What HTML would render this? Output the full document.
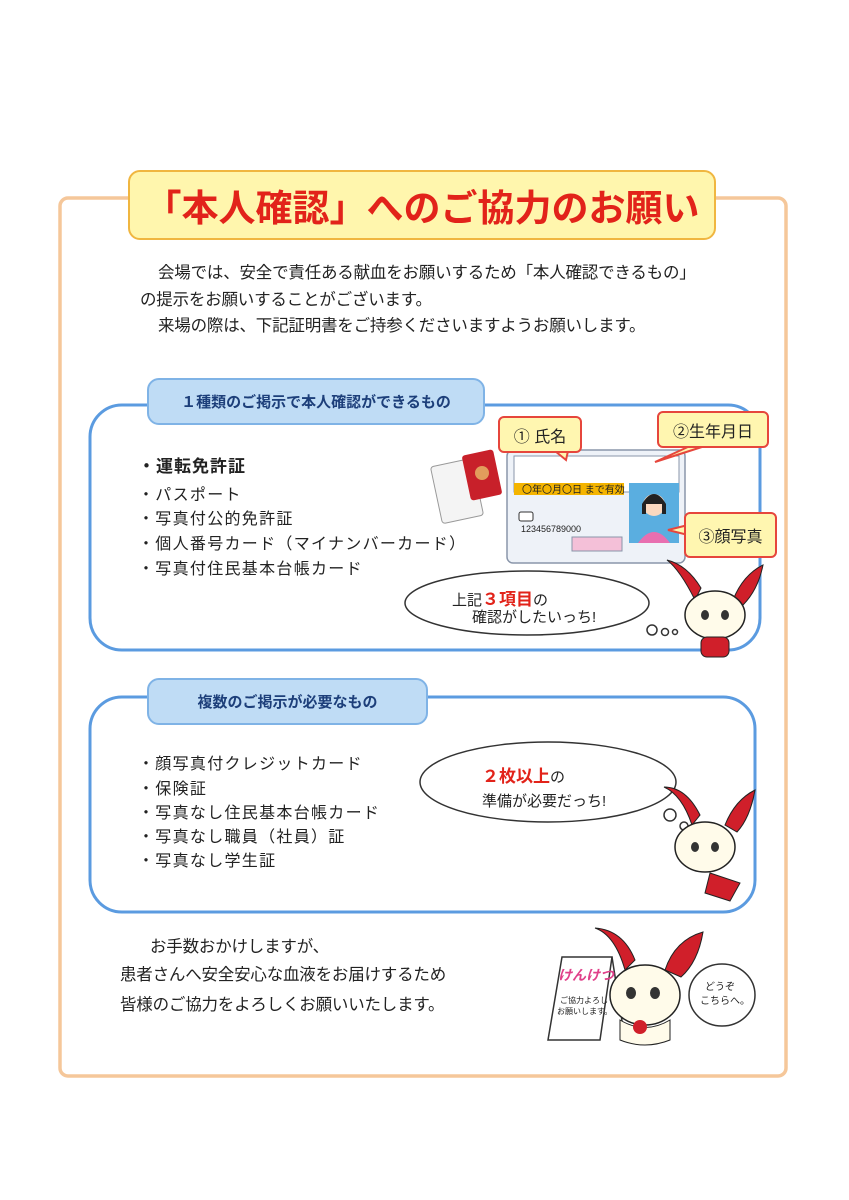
<!DOCTYPE html>
<html><head><meta charset="utf-8"><style>
*{margin:0;padding:0;box-sizing:border-box}
body{width:849px;height:1200px;background:#fff;position:relative;overflow:hidden;font-family:"Liberation Sans","Noto Sans CJK JP",sans-serif;color:#222}
.a{position:absolute;white-space:nowrap}
.p{font-size:16.5px;line-height:1;letter-spacing:-0.2px}
.li{font-size:16px;line-height:1;letter-spacing:1.3px}
.tab{position:absolute;background:#bfdcf5;border:2px solid #7fb3e6;border-radius:12px;font-weight:bold;font-size:15px;color:#1d3f7a;display:flex;align-items:center;justify-content:center}
.co{position:absolute;background:#fff6b0;border:2px solid #e6463c;border-radius:6px;font-size:16px;display:flex;align-items:center;justify-content:center}
</style></head><body>
<svg class="a" style="left:0;top:0" width="849" height="1200">
 <rect x="60" y="198" width="726" height="878" rx="8" fill="none" stroke="#f5c79a" stroke-width="3.5"/>
 <rect x="90" y="405" width="670" height="245" rx="32" fill="#fff" stroke="#5b9be0" stroke-width="3"/>
 <rect x="90" y="697" width="665" height="215" rx="32" fill="#fff" stroke="#5b9be0" stroke-width="3"/>
 <rect x="507" y="450" width="178" height="113" rx="6" fill="#eef2f8" stroke="#8a96aa" stroke-width="1.5"/>
 <rect x="514" y="456" width="165" height="36" fill="#fff" stroke="#8a96aa"/>
 <rect x="514" y="483" width="110" height="12" fill="#f4b400"/>
 <text x="522" y="493" font-size="10" fill="#222">〇年〇月〇日 まで有効</text>
 <rect x="629" y="483" width="50" height="60" fill="#5aaee0"/>
 <circle cx="654" cy="505" r="11" fill="#fbd9c0"/>
 <path d="M642 504 q12 -20 24 0 v10 h-4 v-10 h-16 v10 h-4z" fill="#222"/>
 <path d="M638 543 q16 -22 32 0z" fill="#e86fb0"/>
 <text x="521" y="532" font-size="9" fill="#222">123456789000</text>
 <rect x="572" y="537" width="50" height="14" fill="#f4c0d8" stroke="#8a96aa"/>
 <rect x="519" y="512" width="14" height="9" rx="2" fill="#fff" stroke="#333"/>
 <rect x="436" y="462" width="42" height="58" rx="3" fill="#f4f4f4" stroke="#999" transform="rotate(-12 457 491)"/>
 <rect x="466" y="452" width="32" height="46" rx="3" fill="#c8202a" transform="rotate(-12 482 475)"/>
 <circle cx="482" cy="473" r="7" fill="#e29c5c"/>
 <path d="M555 451 L566 460 L568 451Z" fill="#fff6b0" stroke="#e6463c" stroke-width="2"/>
 <path d="M690 446 L655 462 L705 446Z" fill="#fff6b0" stroke="#e6463c" stroke-width="2"/>
 <path d="M688 525 L668 530 L688 535Z" fill="#fff6b0" stroke="#e6463c" stroke-width="2"/>
 <g fill="#fff" stroke="#333" stroke-width="1.5">
  <ellipse cx="527" cy="603" rx="122" ry="32"/>
  <circle cx="652" cy="630" r="5"/><circle cx="665" cy="632" r="3.5"/><circle cx="675" cy="632" r="2.5"/>
 </g>
 <g fill="#fff" stroke="#333" stroke-width="1.5">
  <ellipse cx="548" cy="782" rx="128" ry="40"/>
  <circle cx="670" cy="815" r="6"/><circle cx="684" cy="826" r="4"/><circle cx="692" cy="834" r="2.5"/>
 </g>
 <g transform="translate(715,615)">
  <path d="M-20 -15 q-15 -30 -28 -40 q20 5 34 28z" fill="#d01f2a" stroke="#222"/>
  <path d="M18 -15 q10 -25 30 -35 q-5 25 -20 40z" fill="#d01f2a" stroke="#222"/>
  <ellipse cx="0" cy="0" rx="30" ry="24" fill="#fffbea" stroke="#222" stroke-width="1.5"/>
  <ellipse cx="-10" cy="0" rx="4" ry="5" fill="#333"/><ellipse cx="10" cy="0" rx="4" ry="5" fill="#333"/>
  <rect x="-14" y="22" width="28" height="20" rx="6" fill="#d01f2a" stroke="#222"/>
 </g>
 <g transform="translate(710,845)">
  <path d="M-18 -20 q-10 -30 -28 -38 q22 0 36 28z" fill="#d01f2a" stroke="#222"/>
  <path d="M15 -20 q10 -25 30 -35 q-5 28 -18 42z" fill="#d01f2a" stroke="#222"/>
  <ellipse cx="-5" cy="2" rx="30" ry="25" fill="#fffbea" stroke="#222" stroke-width="1.5"/>
  <ellipse cx="-15" cy="2" rx="4" ry="5" fill="#333"/><ellipse cx="5" cy="2" rx="4" ry="5" fill="#333"/>
  <path d="M0 28 l30 10 l-10 18 l-25 -8z" fill="#d01f2a" stroke="#222"/>
 </g>
 <path d="M562 957 L612 957 L600 1040 L548 1040Z" fill="#fff" stroke="#333" stroke-width="1.5"/>
 <path d="M612 957 L625 1040" stroke="#333" stroke-width="1.5"/>
 <text x="558" y="980" font-size="14" font-weight="bold" fill="#e0408a" font-style="italic">けんけつ</text>
 <text x="560" y="1003" font-size="8" fill="#222">ご協力よろしく</text>
 <text x="557" y="1014" font-size="8" fill="#222">お願いします。</text>
 <g transform="translate(645,995)">
  <path d="M-20 -25 q-10 -35 -30 -42 q28 2 40 32z" fill="#d01f2a" stroke="#222"/>
  <path d="M20 -25 q10 -30 38 -38 q-5 30 -22 45z" fill="#d01f2a" stroke="#222"/>
  <ellipse cx="0" cy="0" rx="35" ry="30" fill="#fffbea" stroke="#222" stroke-width="1.5"/>
  <ellipse cx="-14" cy="-2" rx="5" ry="6" fill="#333"/><ellipse cx="10" cy="-2" rx="5" ry="6" fill="#333"/>
  <path d="M-25 25 q25 15 50 0 l0 20 q-25 10 -50 0z" fill="#fffbea" stroke="#222"/>
  <circle cx="-5" cy="32" r="7" fill="#d01f2a"/>
 </g>
 <ellipse cx="722" cy="995" rx="33" ry="31" fill="#fff" stroke="#333" stroke-width="1.5"/>
 <text x="705" y="990" font-size="10" fill="#222">どうぞ</text>
 <text x="700" y="1004" font-size="10" fill="#222">こちらへ。</text>
</svg>

<div class="a" style="left:128px;top:170px;width:588px;height:70px;background:#fff6ad;border:2px solid #f0b640;border-radius:12px;color:#e2231a;font-size:37px;font-weight:bold;display:flex;align-items:center;justify-content:center">「本人確認」へのご協力のお願い</div>

<div class="a p" style="left:158px;top:265px">会場では、安全で責任ある献血をお願いするため「本人確認できるもの」</div>
<div class="a p" style="left:140px;top:292px">の提示をお願いすることがございます。</div>
<div class="a p" style="left:158px;top:318px">来場の際は、下記証明書をご持参くださいますようお願いします。</div>

<div class="tab" style="left:147px;top:378px;width:338px;height:47px">１種類のご掲示で本人確認ができるもの</div>
<div class="a" style="left:138px;top:452px;font-size:17px;font-weight:bold;letter-spacing:1px">・運転免許証</div>
<div class="a li" style="left:138px;top:488px">・パスポート</div>
<div class="a li" style="left:138px;top:512px">・写真付公的免許証</div>
<div class="a li" style="left:138px;top:537px">・個人番号カード（マイナンバーカード）</div>
<div class="a li" style="left:138px;top:562px">・写真付住民基本台帳カード</div>

<div class="co" style="left:498px;top:416px;width:84px;height:37px">①&nbsp;氏名</div>
<div class="co" style="left:657px;top:411px;width:112px;height:37px">②生年月日</div>
<div class="co" style="left:684px;top:512px;width:93px;height:46px">③顔写真</div>

<div class="a" style="left:452px;top:585px;font-size:15px">上記<span style="color:#e2231a;font-weight:bold;font-size:17px">３項目</span>の</div>
<div class="a" style="left:472px;top:606px;font-size:15px">確認がしたいっち!</div>

<div class="tab" style="left:147px;top:678px;width:281px;height:47px">複数のご掲示が必要なもの</div>
<div class="a li" style="left:138px;top:757px">・顔写真付クレジットカード</div>
<div class="a li" style="left:138px;top:782px">・保険証</div>
<div class="a li" style="left:138px;top:806px">・写真なし住民基本台帳カード</div>
<div class="a li" style="left:138px;top:830px">・写真なし職員（社員）証</div>
<div class="a li" style="left:138px;top:854px">・写真なし学生証</div>

<div class="a" style="left:482px;top:762px;font-size:15px"><span style="color:#e2231a;font-weight:bold;font-size:17px">２枚以上</span>の</div>
<div class="a" style="left:482px;top:790px;font-size:15px">準備が必要だっち!</div>

<div class="a p" style="left:150px;top:939px">お手数おかけしますが、</div>
<div class="a p" style="left:120px;top:967px">患者さんへ安全安心な血液をお届けするため</div>
<div class="a p" style="left:120px;top:997px">皆様のご協力をよろしくお願いいたします。</div>
</body></html>
